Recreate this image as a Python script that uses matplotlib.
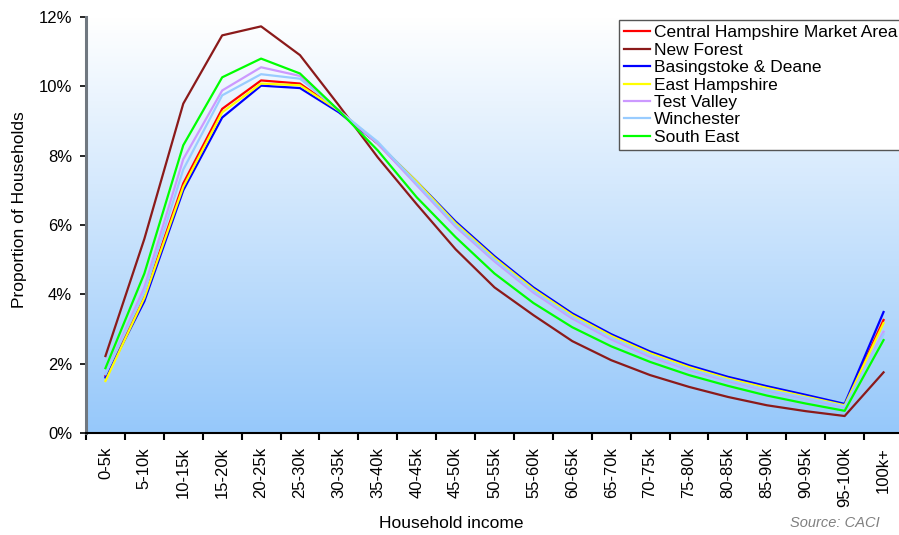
import numpy as np
import matplotlib
matplotlib.use('Agg')
import matplotlib.pyplot as plt
from matplotlib.colors import LinearSegmentedColormap
from matplotlib.ticker import FixedLocator, FuncFormatter

plt.rcParams['font.family'] = ['Liberation Sans', 'DejaVu Sans']

# income bands
bands = ['0-5k', '5-10k', '10-15k', '15-20k', '20-25k', '25-30k', '30-35k',
         '35-40k', '40-45k', '45-50k', '50-55k', '55-60k', '60-65k', '65-70k',
         '70-75k', '75-80k', '80-85k', '85-90k', '90-95k', '95-100k', '100k+']

# share of households in each band, %
central_hants = [1.65, 3.95, 7.2, 9.35, 10.17, 10.08, 9.3, 8.35, 7.2, 6.05, 5.05,
                 4.15, 3.4, 2.8, 2.3, 1.9, 1.57, 1.28, 1.03, 0.8, 3.26]
new_forest = [2.22, 5.6, 9.5, 11.47, 11.73, 10.9, 9.45, 7.95, 6.6, 5.3, 4.2,
              3.4, 2.65, 2.1, 1.67, 1.33, 1.04, 0.8, 0.63, 0.49, 1.75]
basingstoke = [1.6, 3.8, 7.0, 9.1, 10.02, 9.95, 9.25, 8.35, 7.25, 6.1, 5.1,
               4.2, 3.45, 2.85, 2.35, 1.95, 1.62, 1.35, 1.1, 0.84, 3.49]
east_hants = [1.5, 3.9, 7.1, 9.25, 10.08, 10.03, 9.3, 8.35, 7.25, 6.05, 5.05,
              4.15, 3.4, 2.8, 2.3, 1.9, 1.57, 1.3, 1.05, 0.8, 3.17]
test_valley = [1.7, 4.2, 7.9, 9.88, 10.55, 10.3, 9.3, 8.35, 7.15, 5.95, 4.95,
               4.05, 3.3, 2.7, 2.2, 1.82, 1.5, 1.23, 1.0, 0.75, 2.92]
winchester = [1.7, 4.05, 7.6, 9.74, 10.35, 10.22, 9.3, 8.4, 7.2, 6.0, 5.0,
              4.1, 3.35, 2.75, 2.25, 1.85, 1.53, 1.25, 1.02, 0.77, 2.85]
south_east = [1.87, 4.6, 8.3, 10.26, 10.8, 10.37, 9.3, 8.15, 6.8, 5.65, 4.6,
              3.75, 3.05, 2.5, 2.05, 1.67, 1.36, 1.08, 0.85, 0.64, 2.68]

series = [
    ('Central Hampshire Market Area', central_hants, '#FF0000'),
    ('New Forest', new_forest, '#8B1A1A'),
    ('Basingstoke & Deane', basingstoke, '#0000FF'),
    ('East Hampshire', east_hants, '#FFFF00'),
    ('Test Valley', test_valley, '#CC99FF'),
    ('Winchester', winchester, '#99CCFF'),
    ('South East', south_east, '#00FF00'),
]

fig = plt.figure(figsize=(8.99, 5.35), dpi=100)
ax = fig.add_axes([86 / 899, 102 / 535, 817 / 899, 416 / 535])

# white-to-blue fill behind the lines
grad = LinearSegmentedColormap.from_list('bg', ['#96C8FA', '#FFFFFF'])
ax.imshow(np.linspace(0, 1, 256).reshape(-1, 1), cmap=grad, origin='lower',
          extent=[0, 1, 0, 1], transform=ax.transAxes, aspect='auto', zorder=0)

x = np.arange(len(bands)) + 0.5
for name, vals, col in series:
    ax.plot(x, vals, color=col, lw=1.6, label=name, zorder=3)

ax.set_xlim(0, len(bands))
ax.set_ylim(0, 12)

ax.spines['top'].set_visible(False)
ax.spines['right'].set_visible(False)
ax.spines['left'].set_color('#707880')
ax.spines['left'].set_linewidth(2.2)
ax.spines['bottom'].set_color('black')
ax.spines['bottom'].set_linewidth(1.5)

ax.set_yticks(np.arange(0, 13, 2))
ax.yaxis.set_major_formatter(FuncFormatter(lambda v, p: '{:.0f}%'.format(v)))
ax.tick_params(axis='y', length=4, width=1.2, pad=6, labelsize=12)

# ticks sit between bands, labels sit on the bands
ax.xaxis.set_major_locator(FixedLocator(np.arange(len(bands) + 1)))
ax.xaxis.set_minor_locator(FixedLocator(x))
ax.xaxis.set_major_formatter(FuncFormatter(lambda v, p: ''))
ax.set_xticklabels(bands, minor=True, rotation=90)
ax.tick_params(axis='x', which='major', length=5, width=1.5, direction='out')
ax.tick_params(axis='x', which='minor', length=0, pad=10, labelsize=12)

ax.set_ylabel('Proportion of Households', fontsize=12.5)
ax.yaxis.set_label_coords(-0.072, 0.536)

fig.text(451 / 899, 1 - 523 / 535, 'Household income', fontsize=12.5,
         ha='center', va='center')
fig.text(880 / 899, 1 - 523 / 535, 'Source: CACI', fontsize=10.5,
         style='italic', color='#808080', ha='right', va='center')

lgd = ax.legend(loc='upper left', bbox_to_anchor=(619 / 899, 1 - 20 / 535),
                bbox_transform=fig.transFigure, borderaxespad=0, fontsize=12.5,
                labelspacing=0.13, handlelength=1.5, handletextpad=0.2,
                borderpad=0.3, fancybox=False, framealpha=1, edgecolor='#555555')
lgd.get_frame().set_linewidth(1.0)

fig.savefig('out.png', dpi=100)
